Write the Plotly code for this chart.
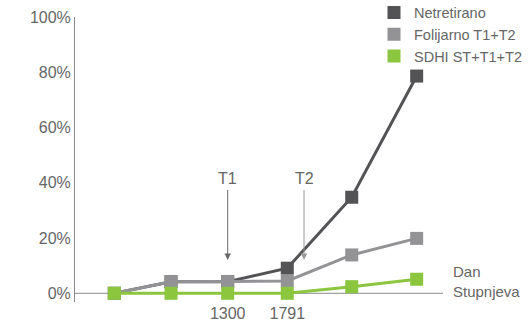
import plotly.graph_objects as go

# degree-day positions (only 1300 and 1791 are labelled in the original)
stupnjevi = [366, 833, 1300, 1791, 2322, 2857]
tick_vals = [1300, 1791]
tick_labels = ["1300", "1791"]
netretirano = [0, 4.2, 4.2, 9.1, 34.8, 78.7]
folijarno = [0, 4.2, 4.3, 4.5, 13.9, 19.9]
sdhi = [0, 0, 0, 0, 2.4, 5.1]

names = ["Netretirano", "Folijarno T1+T2", "SDHI ST+T1+T2"]
colors = ["#535356", "#939396", "#8cc63f"]
series = [netretirano, folijarno, sdhi]

fig = go.Figure()
for name, col, vals in zip(names, colors, series):
    fig.add_trace(go.Scatter(x=stupnjevi, y=vals, mode="lines+markers", showlegend=False,
                             line=dict(color=col, width=3),
                             marker=dict(symbol="square", size=13, color=col)))
for name, col in zip(names, colors):
    fig.add_trace(go.Scatter(x=[None], y=[None], mode="markers", name=name,
                             marker=dict(symbol="square", size=13, color=col)))

font = dict(family="Liberation Sans, Arial, sans-serif", color="#666666")
XR = [42, 3074]

fig.update_layout(
    width=530, height=319,
    margin=dict(l=75, r=87, t=17, b=17, autoexpand=False),
    paper_bgcolor="white", plot_bgcolor="white",
    font=dict(size=16, **font),
    legend=dict(x=0.8125, y=1.072, xanchor="left", yanchor="top",
                font=dict(size=14.5, **font), tracegroupgap=0,
                bgcolor="rgba(0,0,0,0)", itemwidth=30),
    xaxis=dict(range=XR, tickvals=tick_vals, ticktext=tick_labels,
               showgrid=False, zeroline=False, showline=False, ticks="",
               tickfont=dict(size=16, **font)),
    yaxis=dict(range=[-3.15, 100.1], tickvals=[0, 20, 40, 60, 80, 100],
               ticktext=["0%", "20%", "40%", "60%", "80%", "100%"],
               showgrid=False, zeroline=False, showline=True, linecolor="#8a8a8a",
               linewidth=1, ticks="", tickfont=dict(size=16, **font)),
)
# x axis baseline at 0
fig.add_shape(type="line", xref="x", yref="y", x0=XR[0], x1=XR[1], y0=0, y1=0,
              line=dict(color="#8a8a8a", width=1), layer="below")

# T1 / T2 arrows
t_pos = [1300, 1929]
t_names = ["T1", "T2"]
t_cols = ["#6a6a6a", "#9a9a9a"]
for tx, tn, tc in zip(t_pos, t_names, t_cols):
    fig.add_annotation(x=tx, y=12.1, ax=tx, ay=38, xref="x", yref="y", axref="x", ayref="y",
                       showarrow=True, arrowhead=2, arrowsize=1.3, arrowwidth=1,
                       arrowcolor=tc, text="")
    fig.add_annotation(x=tx, y=41.7, xref="x", yref="y", text=tn, showarrow=False,
                       font=dict(size=16, **font))
fig.add_annotation(x=1.0217, y=0.071, xref="paper", yref="paper", text="Dan<br>Stupnjeva",
                   showarrow=False, xanchor="left", yanchor="middle", align="left",
                   font=dict(size=15, **font))

fig.write_html("out.html", config={"displayModeBar": False},
               post_script="document.body.style.margin='0px';document.body.style.padding='0px';")
